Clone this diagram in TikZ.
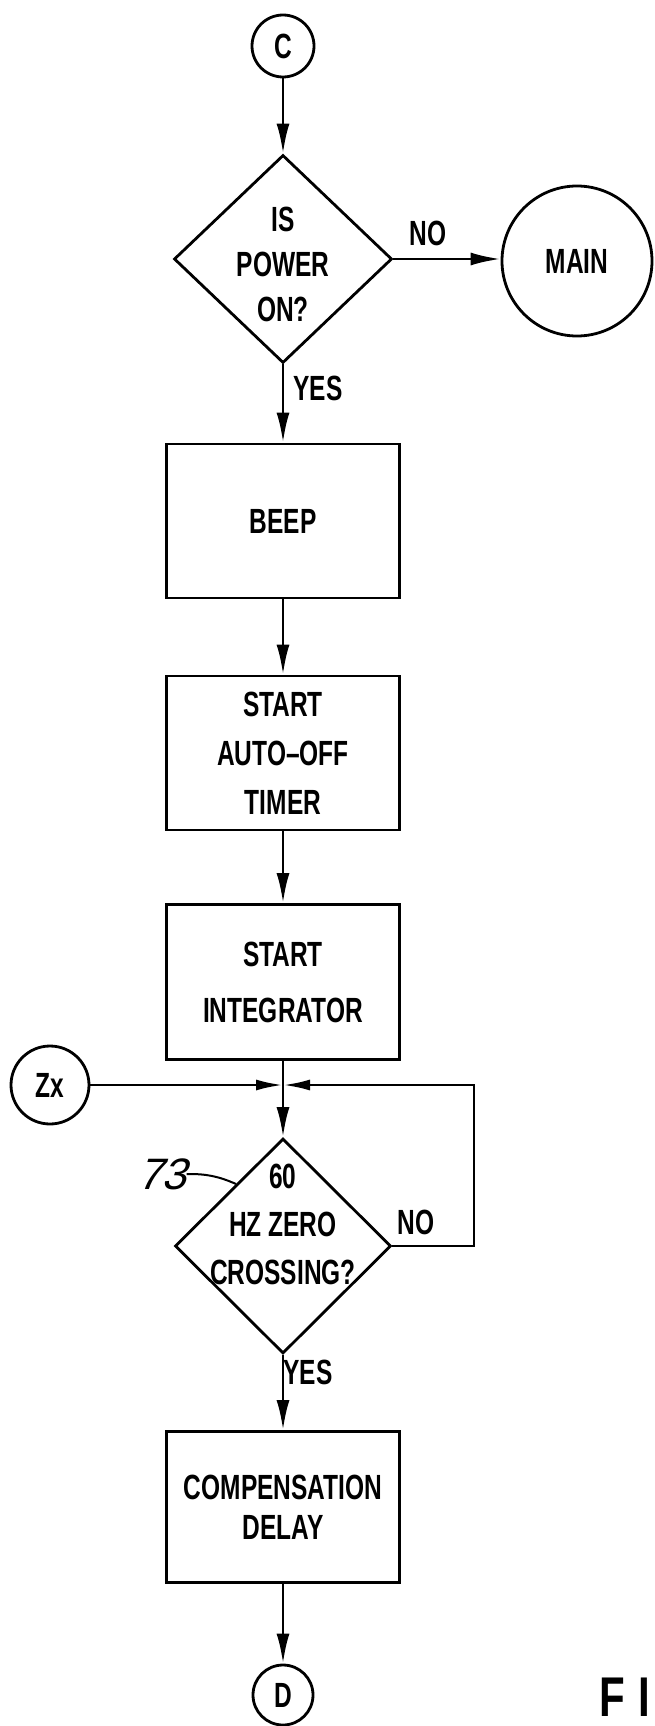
\documentclass[tikz,border=0pt]{standalone}
\usepackage{fontspec}
\setmainfont[FakeStretch=0.7]{Liberation Sans}
\newfontfamily\numfont[FakeSlant=0.3]{Liberation Sans}
\newfontfamily\figfont[FakeStretch=0.75]{Liberation Sans}
\usetikzlibrary{arrows.meta,shapes.geometric,calc}
\newcommand{\labfont}[1]{\fontsize{35}{#1}\selectfont\bfseries}
\begin{document}
\begin{tikzpicture}[x=1pt,y=-1pt,
  every node/.style={font=\labfont{45}},
  line/.style={line width=2.8pt},
  arr/.style={line width=2.8pt,-{Latex[length=30pt,width=13pt]}},
  sarr/.style={line width=2.8pt,-{Latex[length=27pt,width=11pt]}},
  stepbox/.style={draw,line width=2.8pt,rectangle,minimum width=233pt,inner sep=0pt,align=center},
  decide/.style={draw,line width=2.8pt,diamond,inner sep=0pt},
  conn/.style={draw,line width=2.8pt,circle,inner sep=0pt},
  lbl/.style={inner sep=0pt,align=center}]
\useasboundingbox (0,0) rectangle (655,1726);

% nodes
\node[conn,minimum size=62pt] (c) at (283,46) {C};
\node[decide,minimum width=218pt,minimum height=208pt] (d1) at (283,259) {};
\node[lbl] (d1t) at (283,264) {IS\\POWER\\ON?};
\node[conn,minimum size=150pt] (main) at (577,261) {MAIN};
\node[stepbox,minimum height=154pt] (beep) at (283,521) {BEEP};
\node[stepbox,minimum height=154pt,font=\labfont{49}] (timer) at (283,753) {START\\AUTO--OFF\\TIMER};
\node[stepbox,minimum height=155pt,font=\labfont{56}] (integ) at (283,982) {START\\INTEGRATOR};
\node[conn,minimum size=78pt] (zx) at (50,1085) {Zx};
\node[decide,minimum width=216pt,minimum height=215pt] (d2) at (283,1246) {};
\node[lbl,font=\labfont{48}] (d2t) at (283,1224) {60\\HZ ZERO\\CROSSING?};
\node[stepbox,minimum height=151pt,font=\labfont{40}] (comp) at (283,1507) {COMPENSATION\\DELAY};
\node[conn,minimum size=60pt] (dend) at (283,1695) {D};

% labels
\node[lbl] (no1) at (428,233) {NO};
\node[lbl] (yes1) at (318,388) {YES};
\node[lbl] (no2) at (416,1222) {NO};
\node[lbl] (yes2) at (308,1372) {YES};
\node[lbl,font=\numfont\fontsize{44}{44}\selectfont] (n73) at (162,1174) {73};
\node[lbl,anchor=west,font=\figfont\fontsize{56}{56}\selectfont\bfseries] (fig) at (599,1697) {F\hspace{14pt}I};

% coordinates
\coordinate (j) at (integ.south |- zx.east);
\coordinate (loopc) at (474,1085);
\coordinate (e73) at ($(d2.north)!0.43!(d2.west)$);

% connectors
\draw[arr] (c) -- (d1.north);
\draw[arr] (d1.east) -- (d1.east -| main.west);
\draw[arr] (d1.south) -- (beep.north);
\draw[arr] (beep) -- (timer);
\draw[arr] (timer) -- (integ);
\draw[arr] (integ) -- (d2.north);
\draw[sarr] (zx.east) -- (j);
\draw[sarr] (d2.east) -| (loopc) -- (j);
\draw[arr] (d2.south) -- (comp.north);
\draw[arr] (comp) -- (dend);
\draw[line width=2pt] (n73.east) to[bend left=12] (e73);
\end{tikzpicture}
\end{document}
